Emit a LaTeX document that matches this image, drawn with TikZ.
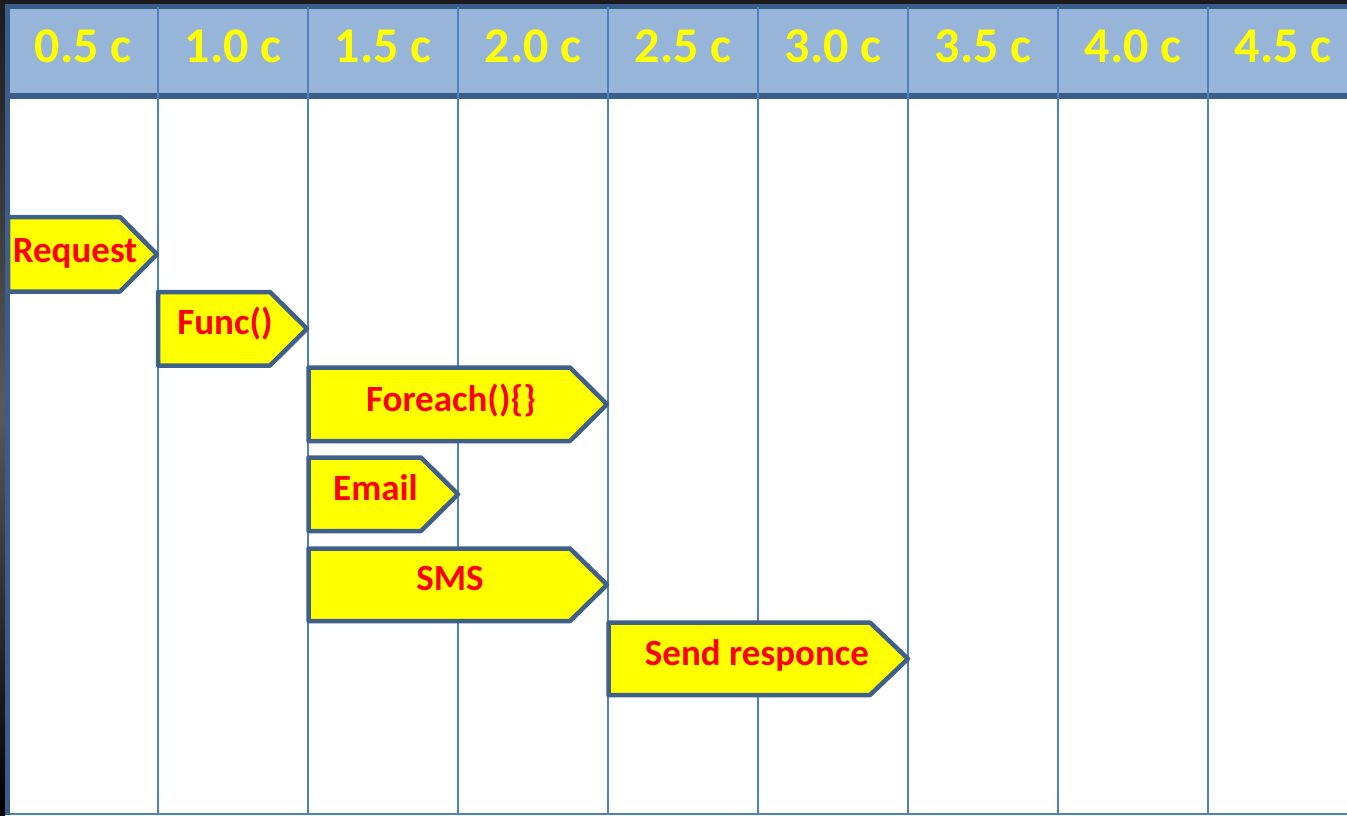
\documentclass[tikz,border=0pt]{standalone}
\usepackage{fontspec}
\setmainfont{Carlito}
\definecolor{hdr}{RGB}{151,181,217}
\definecolor{framec}{RGB}{56,93,138}
\definecolor{gridc}{RGB}{79,129,189}
\definecolor{tagline}{RGB}{62,96,138}
\definecolor{bgdark}{RGB}{28,26,26}
\definecolor{tagfill}{RGB}{255,255,0}
\definecolor{tagtext}{RGB}{255,0,0}
\tikzset{
  tagbox/.style={draw=tagline,fill=tagfill,line width=4.5pt,line join=round},
  taglabel/.style={text=tagtext,font=\bfseries\fontsize{37}{40}\selectfont,anchor=base,inner sep=0pt},
  hdrlabel/.style={text=tagfill,font=\bfseries\fontsize{50}{54}\selectfont,anchor=base,inner sep=0pt},
  gridline/.style={draw=gridc,line width=2pt},
}
\begin{document}
\begin{tikzpicture}[x=1pt,y=-1pt]
\useasboundingbox (0,0) rectangle (1347,815);
% dark surroundings
\fill[bgdark] (0,0) rectangle (1347,815);
\shade[top color=bgdark,bottom color=black,middle color=gray!70!black] (0,0) rectangle (5,815);
% white panel
\fill[white] (5,4) rectangle (1347,815);
% header
\fill[hdr] (5,4) rectangle (1347,96);
\fill[framec] (5,93) rectangle (1347,99);
% frame top & left
\fill[framec] (5,4) rectangle (1347,9);
\fill[framec] (5,4) rectangle (10,815);
% bottom line
\draw[gridline] (10,814) -- (1347,814);
% column lines
\foreach \x in {158,308,458,608,758,908,1058,1208}
  \draw[gridline] (\x,7) -- (\x,815);
% header labels
\node[hdrlabel] (h1) at (83,62) {0.5 c};
\node[hdrlabel] (h2) at (233,62) {1.0 c};
\node[hdrlabel] (h3) at (383,62) {1.5 c};
\node[hdrlabel] (h4) at (533,62) {2.0 c};
\node[hdrlabel] (h5) at (683,62) {2.5 c};
\node[hdrlabel] (h6) at (833,62) {3.0 c};
\node[hdrlabel] (h7) at (983,62) {3.5 c};
\node[hdrlabel] (h8) at (1133,62) {4.0 c};
\node[hdrlabel] (h9) at (1283,62) {4.5 c};
% tag shapes
\draw[tagbox] (8,217) -- (120,217) -- (157,254.25) -- (120,291.5) -- (8,291.5) -- cycle;
\draw[tagbox] (158,292) -- (270,292) -- (307,328.75) -- (270,365.5) -- (158,365.5) -- cycle;
\draw[tagbox] (308.5,367.5) -- (570,367.5) -- (607,404.25) -- (570,441) -- (308.5,441) -- cycle;
\draw[tagbox] (308.5,457.5) -- (421,457.5) -- (458,494.25) -- (421,531) -- (308.5,531) -- cycle;
\draw[tagbox] (308.5,548.5) -- (570,548.5) -- (607,584.75) -- (570,621) -- (308.5,621) -- cycle;
\draw[tagbox] (608.5,622.5) -- (870,622.5) -- (908,658.75) -- (870,695) -- (608.5,695) -- cycle;
% tag labels
\node[taglabel] (req) at (75,262) {Request};
\node[taglabel] (func) at (225,334) {Func()};
\node[taglabel] (fe) at (451,411) {Foreach()\{\}};
\node[taglabel] (mail) at (375.5,500) {Email};
\node[taglabel] (sms) at (450,590) {SMS};
\node[taglabel] (resp) at (757,665) {Send responce};
\end{tikzpicture}
\end{document}
